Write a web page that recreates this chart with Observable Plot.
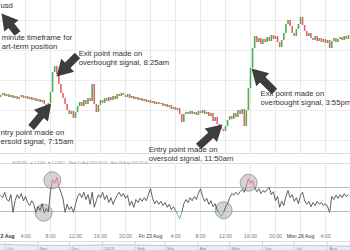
<!DOCTYPE html>
<html><head><meta charset="utf-8">
<script src="https://cdn.jsdelivr.net/npm/d3@7"></script>
<script src="https://cdn.jsdelivr.net/npm/@observablehq/plot@0.6"></script>
<style>
html,body{margin:0;padding:0;background:#fff;}
#wrap{position:relative;width:350px;height:250px;overflow:hidden;font-family:"Liberation Sans",Arial,sans-serif;background:#fff;}
#wrap svg{position:absolute;left:0;}
.hline{position:absolute;left:0;width:350px;height:0;border-top:1px solid #dcdcdc;}
</style></head><body><div id="wrap"></div>
<script>
// ---------- DATA ----------
const STEP = 1/3; // hours between sampled candles, from Thu 22 Aug 00:00 (trading hours)
const firstOpen = 1.1083;
const closes = [
1.1085,1.1087,1.1084,1.1086,1.1083,1.1085,1.1082,1.1084,1.1081,1.1083,1.1085,1.1082,1.1084,1.1081,1.1083,1.1080,1.1082,1.1079,1.1081,1.1078,1.1080,1.1076,1.1074,1.1077,
1.1088,1.1108,1.1114,1.1106,1.1096,1.1087,1.1082,1.1076,1.1070,1.1066,1.1069,1.1062,1.1068,1.1074,1.1078,1.1074,1.1080,1.1076,1.1082,1.1079,1.1096,1.1076,1.1068,1.1075,
1.1080,1.1077,1.1082,1.1079,1.1083,1.1080,1.1084,1.1081,1.1086,1.1084,1.1087,1.1085,1.1083,1.1086,1.1082,1.1084,1.1081,1.1083,1.1080,1.1082,1.1079,1.1081,1.1078,1.1080,
1.1077,1.1079,1.1076,1.1078,1.1076,1.1077,1.1074,1.1076,1.1073,1.1075,1.1071,1.1073,1.1070,1.1072,1.1066,1.1058,1.1066,1.1068,1.1066,1.1069,1.1066,1.1068,1.1065,1.1069,
1.1067,1.1070,1.1066,1.1068,1.1064,1.1067,1.1059,1.1063,1.1056,1.1053,1.1051,1.1049,1.1054,1.1060,1.1064,1.1061,1.1067,1.1063,1.1070,1.1066,1.1071,1.1054,1.1070,1.1092,
1.1112,1.1132,1.1144,1.1138,1.1142,1.1136,1.1141,1.1138,1.1143,1.1139,1.1145,1.1141,1.1144,1.1138,1.1133,1.1140,1.1147,1.1156,1.1160,1.1154,1.1147,1.1144,1.1151,1.1156,
1.1163,1.1155,1.1149,1.1144,1.1147,1.1142,1.1140,1.1144,1.1139,1.1142,1.1138,1.1141,1.1137,1.1140,1.1132,1.1139,1.1142,1.1138,1.1141,1.1143,1.1140,1.1144,1.1141,1.1145
];
const rsi = [
57,53,62,50,47,58,28,48,58,52,60,48,55,45,40,48,42,27,38,32,43,27,35,30,
65,83,77,87,72,62,52,28,42,33,38,28,42,55,60,53,62,50,58,42,62,37,48,58,
53,62,50,57,45,53,42,50,57,62,55,60,52,57,40,47,37,50,45,52,47,53,48,58,
68,52,43,48,42,47,40,45,37,42,33,38,32,25,18,28,43,50,45,53,48,55,50,60,
68,55,47,52,42,48,38,43,33,27,22,28,37,43,53,60,57,62,58,63,67,62,72,85,
77,82,70,63,68,60,65,62,67,70,58,63,48,55,37,47,40,55,65,53,58,47,53,43,
57,62,48,42,47,38,45,40,47,42,45,40,43,38,28,55,50,57,52,58,53,60,55,58
];
const tickHours = [0,4,8,12,16,20,24,28,32,36,40,44,48,52];
const tickLabels = ["2 Aug","4:00","8:00","12:00","16:00","20:00","Fri 23 Aug","4:00","8:00","12:00","16:00","20:00","Mon 26 Aug","4:00"];
const priceGrid = [1.1160,1.1130,1.1100,1.1070,1.1040];
const rsiLevels = [30,70];
// trade markers on RSI
const circleT = [6.9, 8.3, 35.7, 39.7];
const circleV = [28, 82, 32, 78];
// annotations
const noteText = ["usd","minute timeframe for\nart-term position","Exit point made on\noverbought signal, 8:25am","ntry point made on\nersold signal, 7:15am","Entry point made on\noversold signal, 11:50am","Exit point made on\noverbought signal, 3:55pm"];
const noteT = [0.0, 0.2, 12.5, 0.0, 23.7, 41.6];
const noteP = [1.1179, 1.1147, 1.1131, 1.1052, 1.1035, 1.1091];
const arrowTailT = [2.72, 12.32, 4.9, 31.68, 43.84];
const arrowTailP = [1.1147, 1.1125, 1.1053, 1.1034, 1.1089];
const arrowTipT  = [0.16, 8.96, 8.1, 35.52, 40.16];
const arrowTipP  = [1.1167, 1.1104, 1.1077, 1.1056, 1.1112];
// navigator
const navDates = ["2018-09-27","2018-10-15","2018-11-05","2018-11-26","2018-12-17","2019-01-07","2019-01-28","2019-02-18","2019-03-11","2019-04-01","2019-04-22","2019-05-13","2019-06-03","2019-06-24","2019-07-15","2019-08-05","2019-08-23"];
const navClose = [1.164,1.147,1.135,1.133,1.136,1.147,1.143,1.134,1.124,1.122,1.123,1.122,1.128,1.138,1.126,1.120,1.110];
const monthStarts = ["2018-10-01","2018-11-01","2018-12-01","2019-01-01","2019-02-01","2019-03-01","2019-04-01","2019-05-01","2019-06-01","2019-07-01","2019-08-01"];
const monthLabels = ["Oct","Nov","Dec","2019","Feb","Mar","Apr","May","Jun","Jul","Aug"];

// ---------- BUILD ----------
const W = 350, MAIN_H = 153;
const XD = [0, 56], PD = [1.1027, 1.1180];
const GREEN = "#4cae50", RED = "#e8606a", DARK = "#3a3a3a", ARROW = "#3d3d3d";
const FONT = "Liberation Sans, Arial, sans-serif";
const baseStyle = {overflow: "visible", background: "transparent", fontFamily: FONT};

const candles = closes.map((c, i) => ({t: i * STEP, open: i ? closes[i-1] : firstOpen, close: c}));
candles.forEach(d => d.col = d.close >= d.open ? GREEN : RED);

const xs = Plot.scale({x: {domain: XD, range: [0, W]}});
const ys = Plot.scale({y: {domain: PD, range: [MAIN_H, 0]}});
const HEAD_R = 6.8;
const HEAD_C = 2 * Math.sqrt(HEAD_R * HEAD_R * Math.PI / (3 * Math.sqrt(3)));
const arrows = arrowTailT.map((t0, i) => {
  const x0 = xs.apply(t0), y0 = ys.apply(arrowTailP[i]);
  const x1 = xs.apply(arrowTipT[i]), y1 = ys.apply(arrowTipP[i]);
  const dx = x1 - x0, dy = y1 - y0, L = Math.hypot(dx, dy);
  const hx = x1 - dx / L * HEAD_C, hy = y1 - dy / L * HEAD_C;
  return {t0, p0: arrowTailP[i], th: xs.invert(hx), ph: ys.invert(hy), rot: Math.atan2(dx, -dy) * 180 / Math.PI};
});
const notes = noteText.map((s, i) => ({s, t: noteT[i], p: noteP[i]}));

const main = Plot.plot({
  width: W, height: MAIN_H, margin: 0,
  x: {domain: XD, axis: null}, y: {domain: PD, axis: null},
  color: {type: "identity"},
  style: baseStyle,
  marks: [
    Plot.ruleY(priceGrid, {stroke: "#ececec"}),
    Plot.ruleX(tickHours.slice(1), {stroke: "#e8e8e8"}),
    Plot.ruleX(candles, {x: "t", y1: "open", y2: "close", stroke: "col", strokeWidth: 1.6}),
    Plot.link(arrows, {x1: "t0", y1: "p0", x2: "th", y2: "ph", stroke: ARROW, strokeWidth: 7.5}),
    Plot.dot(arrows, {x: "th", y: "ph", symbol: "triangle", r: HEAD_R, fill: ARROW, rotate: "rot"}),
    Plot.text(notes, {x: "t", y: "p", text: "s", textAnchor: "start", lineAnchor: "top", lineHeight: 1.2, fontSize: 7.7, fill: "#333"})
  ]
});

// RSI
const rsiPts = rsi.map((v, i) => ({t: i * STEP, v}));
const colorOf = v => v > 70 ? RED : v < 30 ? GREEN : DARK;
const segs = [];
for (let i = 0; i < rsiPts.length - 1; i++) {
  const a = rsiPts[i], b = rsiPts[i+1];
  const cuts = [0, 1];
  for (const th of rsiLevels) if ((a.v - th) * (b.v - th) < 0) cuts.push((th - a.v) / (b.v - a.v));
  cuts.sort((p, q) => p - q);
  for (let k = 0; k < cuts.length - 1; k++) {
    const f0 = cuts[k], f1 = cuts[k+1], fm = (f0 + f1) / 2;
    segs.push({x1: a.t + (b.t - a.t) * f0, y1: a.v + (b.v - a.v) * f0,
               x2: a.t + (b.t - a.t) * f1, y2: a.v + (b.v - a.v) * f1,
               c: colorOf(a.v + (b.v - a.v) * fm)});
  }
}
const circles = circleT.map((t, i) => ({t, v: circleV[i]}));
const ticks = tickHours.map((h, i) => ({h, s: tickLabels[i], date: /Aug/.test(tickLabels[i])}));

const rsiPlot = Plot.plot({
  width: W, height: 88, marginTop: 16, marginBottom: 12, marginLeft: 0, marginRight: 0,
  x: {domain: XD, axis: null}, y: {domain: [0, 100], axis: null},
  color: {type: "identity"},
  style: baseStyle,
  marks: [
    Plot.ruleX(tickHours.slice(1), {stroke: "#e8e8e8", insetTop: -4, insetBottom: -4}),
    Plot.ruleY(rsiLevels, {stroke: "#a9bdd1", strokeWidth: 1.2}),
    Plot.dot(circles, {x: "t", y: "v", r: 8.5, fill: "#b8b8b8", fillOpacity: 0.6, stroke: "#8f8f8f", strokeWidth: 0.8}),
    Plot.link(segs, {x1: "x1", y1: "y1", x2: "x2", y2: "y2", stroke: "c", strokeWidth: 0.8}),
    Plot.text(ticks.slice(0, 1), {x: "h", text: "s", frameAnchor: "bottom", dy: 8.5, fontSize: 5.2, textAnchor: "start", fill: "#333", fontWeight: "bold"}),
    Plot.text(ticks.slice(1), {x: "h", text: "s", frameAnchor: "bottom", dy: 8.5, fontSize: 5.2,
      fill: d => d.date ? "#333" : "#777", fontWeight: d => d.date ? "bold" : "normal"}),
    Plot.text(["EURUSD  \u25B2 1.1564  \u25BC 1.15817    Wed 21 Aug 2019 16:00 - Mon 26 Aug 2019 11:45"],
      {frameAnchor: "top-left", dx: 12, dy: -8.5, fontSize: 3.6, fill: "#999", textAnchor: "start"})
  ]
});

// navigator
const nav = navDates.map((d, i) => ({d: new Date(d), v: navClose[i]}));
const months = monthStarts.map((d, i) => ({d: new Date(d), s: monthLabels[i]}));
const navPlot = Plot.plot({
  width: W, height: 10, marginTop: 2, marginBottom: 0, marginLeft: 0, marginRight: 0,
  x: {type: "utc", domain: [new Date("2018-09-27"), new Date("2019-08-23")], axis: null},
  y: {domain: [0.95, 1.19], axis: null},
  style: baseStyle,
  marks: [
    Plot.areaY(nav, {x: "d", y: "v", fill: "#e7eef6"}),
    Plot.lineY(nav, {x: "d", y: "v", stroke: "#a9c1da", strokeWidth: 0.8}),
    Plot.ruleX(months, {x: "d", stroke: "#d6d6d6", insetTop: -2}),
    Plot.text(months, {x: "d", text: "s", textAnchor: "start", dx: 2, frameAnchor: "bottom", dy: -2, fontSize: 4.3, fill: "#888"})
  ]
});

const wrap = document.getElementById("wrap");
function place(el, top) { el.style.position = "absolute"; el.style.top = top + "px"; el.style.left = "0px"; wrap.appendChild(el); }
function hline(top) { const d = document.createElement("div"); d.className = "hline"; d.style.top = top + "px"; wrap.appendChild(d); }
hline(153); hline(163); hline(241);
place(navPlot, 241);
place(rsiPlot, 153);
place(main, 0);
</script></body></html>
